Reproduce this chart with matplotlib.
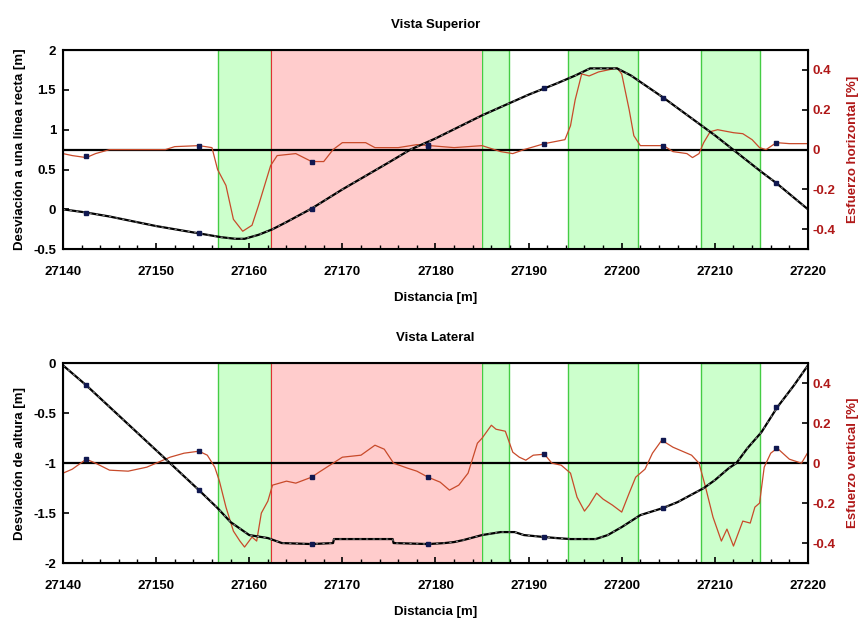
import numpy as np
import matplotlib.pyplot as plt
from matplotlib.ticker import MultipleLocator, FuncFormatter

plt.rcParams['font.family'] = ['Liberation Sans Narrow', 'Liberation Sans', 'DejaVu Sans']
plt.rcParams['font.weight'] = 'bold'
plt.rcParams['axes.titleweight'] = 'bold'
plt.rcParams['axes.labelweight'] = 'bold'
plt.rcParams['font.size'] = 9

# Bands (same in both views)
green_bands = [(27156.6, 27162.3), (27185.0, 27187.9), (27194.2, 27201.8), (27208.5, 27214.8)]
red_bands = [(27162.3, 27185.0)]

# Vista Superior - deviation from straight line [m]
sup_dist = [27140, 27142.5, 27145, 27147.5, 27150, 27152.5, 27155, 27157, 27158.5, 27159.5,
            27161, 27162.5, 27164, 27166.7, 27170, 27175, 27177.3, 27180, 27185, 27190,
            27193, 27195, 27196.6, 27199.5, 27201, 27204.5, 27210, 27215, 27216.6, 27220]
sup_dev = [0.0, -0.04, -0.09, -0.15, -0.21, -0.26, -0.31, -0.35, -0.37, -0.37,
           -0.32, -0.25, -0.16, 0.01, 0.25, 0.59, 0.75, 0.89, 1.18, 1.44,
           1.58, 1.68, 1.77, 1.77, 1.68, 1.40, 0.93, 0.47, 0.33, 0.0]

# Vista Superior - horizontal strain [%]
sup_sdist = [27140, 27141, 27142.5, 27143.5, 27145, 27148, 27151, 27152, 27154.6, 27156,
             27156.6, 27157.5, 27158.3, 27159.3, 27160.3, 27161, 27162.3, 27163, 27165, 27166.7,
             27168, 27169, 27170, 27172.5, 27173.5, 27176, 27178, 27179.4, 27182, 27185,
             27187, 27188.3, 27189.5, 27191.7, 27193.9, 27194.5, 27195, 27195.7, 27196.5, 27197.5,
             27199.5, 27200, 27200.8, 27201.3, 27202, 27203, 27204.5, 27205.5, 27207, 27207.6,
             27208.3, 27208.8, 27209.5, 27210.3, 27212, 27213, 27214, 27214.8, 27215.5, 27216.6,
             27218, 27219, 27220]
sup_strain = [-0.02, -0.03, -0.04, -0.02, 0.0, 0.0, 0.0, 0.015, 0.02, 0.01,
              -0.1, -0.18, -0.35, -0.41, -0.38, -0.28, -0.08, -0.03, -0.02, -0.06,
              -0.06, 0.0, 0.035, 0.035, 0.01, 0.01, 0.025, 0.02, 0.01, 0.02,
              -0.01, -0.02, 0.0, 0.03, 0.05, 0.12, 0.25, 0.38, 0.37, 0.39,
              0.41, 0.38, 0.2, 0.07, 0.02, 0.02, 0.02, -0.01, -0.02, -0.04,
              -0.02, 0.035, 0.09, 0.1, 0.085, 0.08, 0.05, 0.01, 0.0, 0.035,
              0.03, 0.03, 0.03]

# Vista Lateral - height deviation [m]
lat_dist = [27140, 27142.5, 27151.5, 27154.6, 27156.6, 27158, 27160, 27162, 27163.5, 27166.7,
            27169, 27169.1, 27175.4, 27175.5, 27179.2, 27181, 27182, 27183, 27185, 27187,
            27188.5, 27189.5, 27191.7, 27193, 27194.5, 27197.2, 27198.5, 27200, 27202, 27204.4,
            27206, 27208.8, 27210, 27211.5, 27212.3, 27213.5, 27215, 27216.7, 27218.5, 27220]
lat_dev = [-0.02, -0.22, -1.0, -1.27, -1.45, -1.59, -1.72, -1.75, -1.8, -1.81,
           -1.8, -1.76, -1.76, -1.8, -1.81, -1.8, -1.79, -1.77, -1.72, -1.69,
           -1.69, -1.72, -1.74, -1.75, -1.76, -1.76, -1.72, -1.64, -1.52, -1.45,
           -1.39, -1.25, -1.17, -1.05, -1.0, -0.85, -0.69, -0.44, -0.22, -0.02]

# Vista Lateral - vertical strain [%]
lat_sdist = [27140, 27141, 27142.5, 27143.5, 27145, 27147, 27149, 27150, 27151.5, 27153,
             27154.6, 27155.5, 27156.3, 27156.8, 27157.5, 27158.3, 27159, 27159.5, 27160.3, 27160.8,
             27161.3, 27162, 27162.5, 27164, 27165, 27166.7, 27167.5, 27169, 27170, 27172,
             27173.5, 27174.5, 27175.5, 27177, 27178, 27179.2, 27180.5, 27181.5, 27182.5, 27183.5,
             27184.5, 27185, 27186, 27186.5, 27187.5, 27188.3, 27189, 27189.7, 27190.5, 27191.7,
             27192.5, 27193.5, 27194.5, 27195.2, 27196, 27196.5, 27197.3, 27198, 27199, 27200,
             27200.8, 27201.5, 27202.5, 27203.3, 27204.3, 27205.5, 27206.5, 27207.5, 27208.3, 27209,
             27209.8, 27210.7, 27211.3, 27212, 27213, 27213.8, 27214.3, 27214.8, 27215.3, 27216,
             27216.7, 27218, 27219.3, 27220]
lat_strain = [-0.05, -0.03, 0.02, 0.0, -0.035, -0.04, -0.02, 0.0, 0.03, 0.05,
              0.06, 0.04, -0.02, -0.09, -0.22, -0.34, -0.39, -0.42, -0.37, -0.39,
              -0.25, -0.19, -0.11, -0.09, -0.1, -0.07, -0.045, 0.0, 0.03, 0.04,
              0.09, 0.07, 0.0, -0.025, -0.04, -0.07, -0.095, -0.135, -0.11, -0.05,
              0.1, 0.125, 0.19, 0.17, 0.16, 0.055, 0.03, 0.015, 0.04, 0.045,
              0.0, -0.01, -0.05, -0.17, -0.24, -0.21, -0.15, -0.18, -0.21, -0.245,
              -0.15, -0.07, -0.03, 0.05, 0.115, 0.08, 0.06, 0.04, 0.0, -0.12,
              -0.27, -0.39, -0.33, -0.415, -0.29, -0.3, -0.22, -0.2, -0.02, 0.05,
              0.075, 0.02, 0.0, 0.055]

# Marker samples (dark blue squares)
mk_dist = [27142.5, 27154.6, 27166.7, 27179.2, 27191.7, 27204.4, 27216.6]
sup_mk_dev = [-0.04, -0.30, 0.01, 0.81, 1.52, 1.40, 0.33]
sup_mk_strain = [-0.03, 0.02, -0.06, 0.02, 0.03, 0.02, 0.035]
lat_mk_dev = [-0.22, -1.27, -1.81, -1.81, -1.74, -1.45, -0.44]
lat_mk_strain = [0.02, 0.06, -0.07, -0.07, 0.045, 0.115, 0.075]

dark_red = '#b01818'
line_red = '#c84a2a'
mk_col = '#101850'


def draw_panel(ax, title, ylabel, rlabel, dist, dev, sdist, strain, mk_dev, mk_strain, ylim, yticks):
    ax2 = ax.twinx()
    # shaded bands on the lower (twin) axes so both curves stay visible
    for a, b in green_bands:
        ax2.axvspan(a, b, facecolor='#ccffcc', edgecolor='#44cc44', lw=1.0, zorder=0)
    for a, b in red_bands:
        ax2.axvspan(a, b, facecolor='#ffcccc', edgecolor='none', zorder=0)
        ax2.axvline(a, color='#dd3333', lw=0.8, zorder=0.5)
    ax2.set_ylim(-0.5, 0.5)
    ax2.axhline(0, color='black', lw=1.6, zorder=3)
    ax2.plot(sdist, strain, color=line_red, lw=0.9, zorder=4)
    ax2.plot(mk_dist, mk_strain, ls='none', marker='s', ms=2.5, color=mk_col, zorder=5)
    ax.plot(dist, dev, color='black', lw=1.6, zorder=2)
    ax.plot(dist, dev, color='#888888', lw=0.8, ls=(0, (2, 4)), zorder=2.1)
    ax.plot(mk_dist, mk_dev, ls='none', marker='s', ms=2.5, color=mk_col, zorder=2.2)
    ax.set_zorder(ax2.get_zorder() + 1)
    ax.patch.set_visible(False)
    ax.set_xlim(27140, 27220)
    ax.set_ylim(*ylim)
    ax.set_yticks(yticks)
    ax.xaxis.set_major_locator(MultipleLocator(10))
    ax.xaxis.set_minor_locator(MultipleLocator(2))
    fmt = FuncFormatter(lambda v, p: f'{v:g}')
    ax.yaxis.set_major_formatter(fmt)
    ax2.yaxis.set_major_formatter(fmt)
    ax2.set_yticks([-0.4, -0.2, 0, 0.2, 0.4])
    ax.tick_params(axis='x', direction='in', length=4, width=1.2, labelsize=9.5, pad=12)
    ax.tick_params(axis='y', direction='in', length=4, width=1.2, labelsize=9.5, pad=5)
    ax.tick_params(which='minor', direction='in', length=3, width=1.0)
    ax2.tick_params(direction='in', length=4, width=1.2, labelsize=9.5, colors='black', labelcolor=dark_red)
    ax.set_title(title, fontsize=9.5, pad=16)
    ax.set_xlabel('Distancia [m]', fontsize=9.5, labelpad=10)
    ax.set_ylabel(ylabel, fontsize=9.5, labelpad=5)
    ax2.set_ylabel(rlabel, fontsize=9.5, color=dark_red, labelpad=8)
    for s in ax.spines.values():
        s.set_linewidth(1.5)
    return ax2


fig = plt.figure(figsize=(8.58, 6.26), dpi=100)
ax_top = fig.add_axes([0.0734, 0.602, 0.8683, 0.318])
ax_bot = fig.add_axes([0.0734, 0.1006, 0.8683, 0.319])

draw_panel(ax_top, 'Vista Superior', 'Desviación a una línea recta [m]', 'Esfuerzo horizontal [%]',
           sup_dist, sup_dev, sup_sdist, sup_strain, sup_mk_dev, sup_mk_strain,
           (-0.5, 2), [-0.5, 0, 0.5, 1, 1.5, 2])
draw_panel(ax_bot, 'Vista Lateral', 'Desviación de altura [m]', 'Esfuerzo vertical [%]',
           lat_dist, lat_dev, lat_sdist, lat_strain, lat_mk_dev, lat_mk_strain,
           (-2, 0), [-2, -1.5, -1, -0.5, 0])

fig.savefig('out.png', dpi=100)
